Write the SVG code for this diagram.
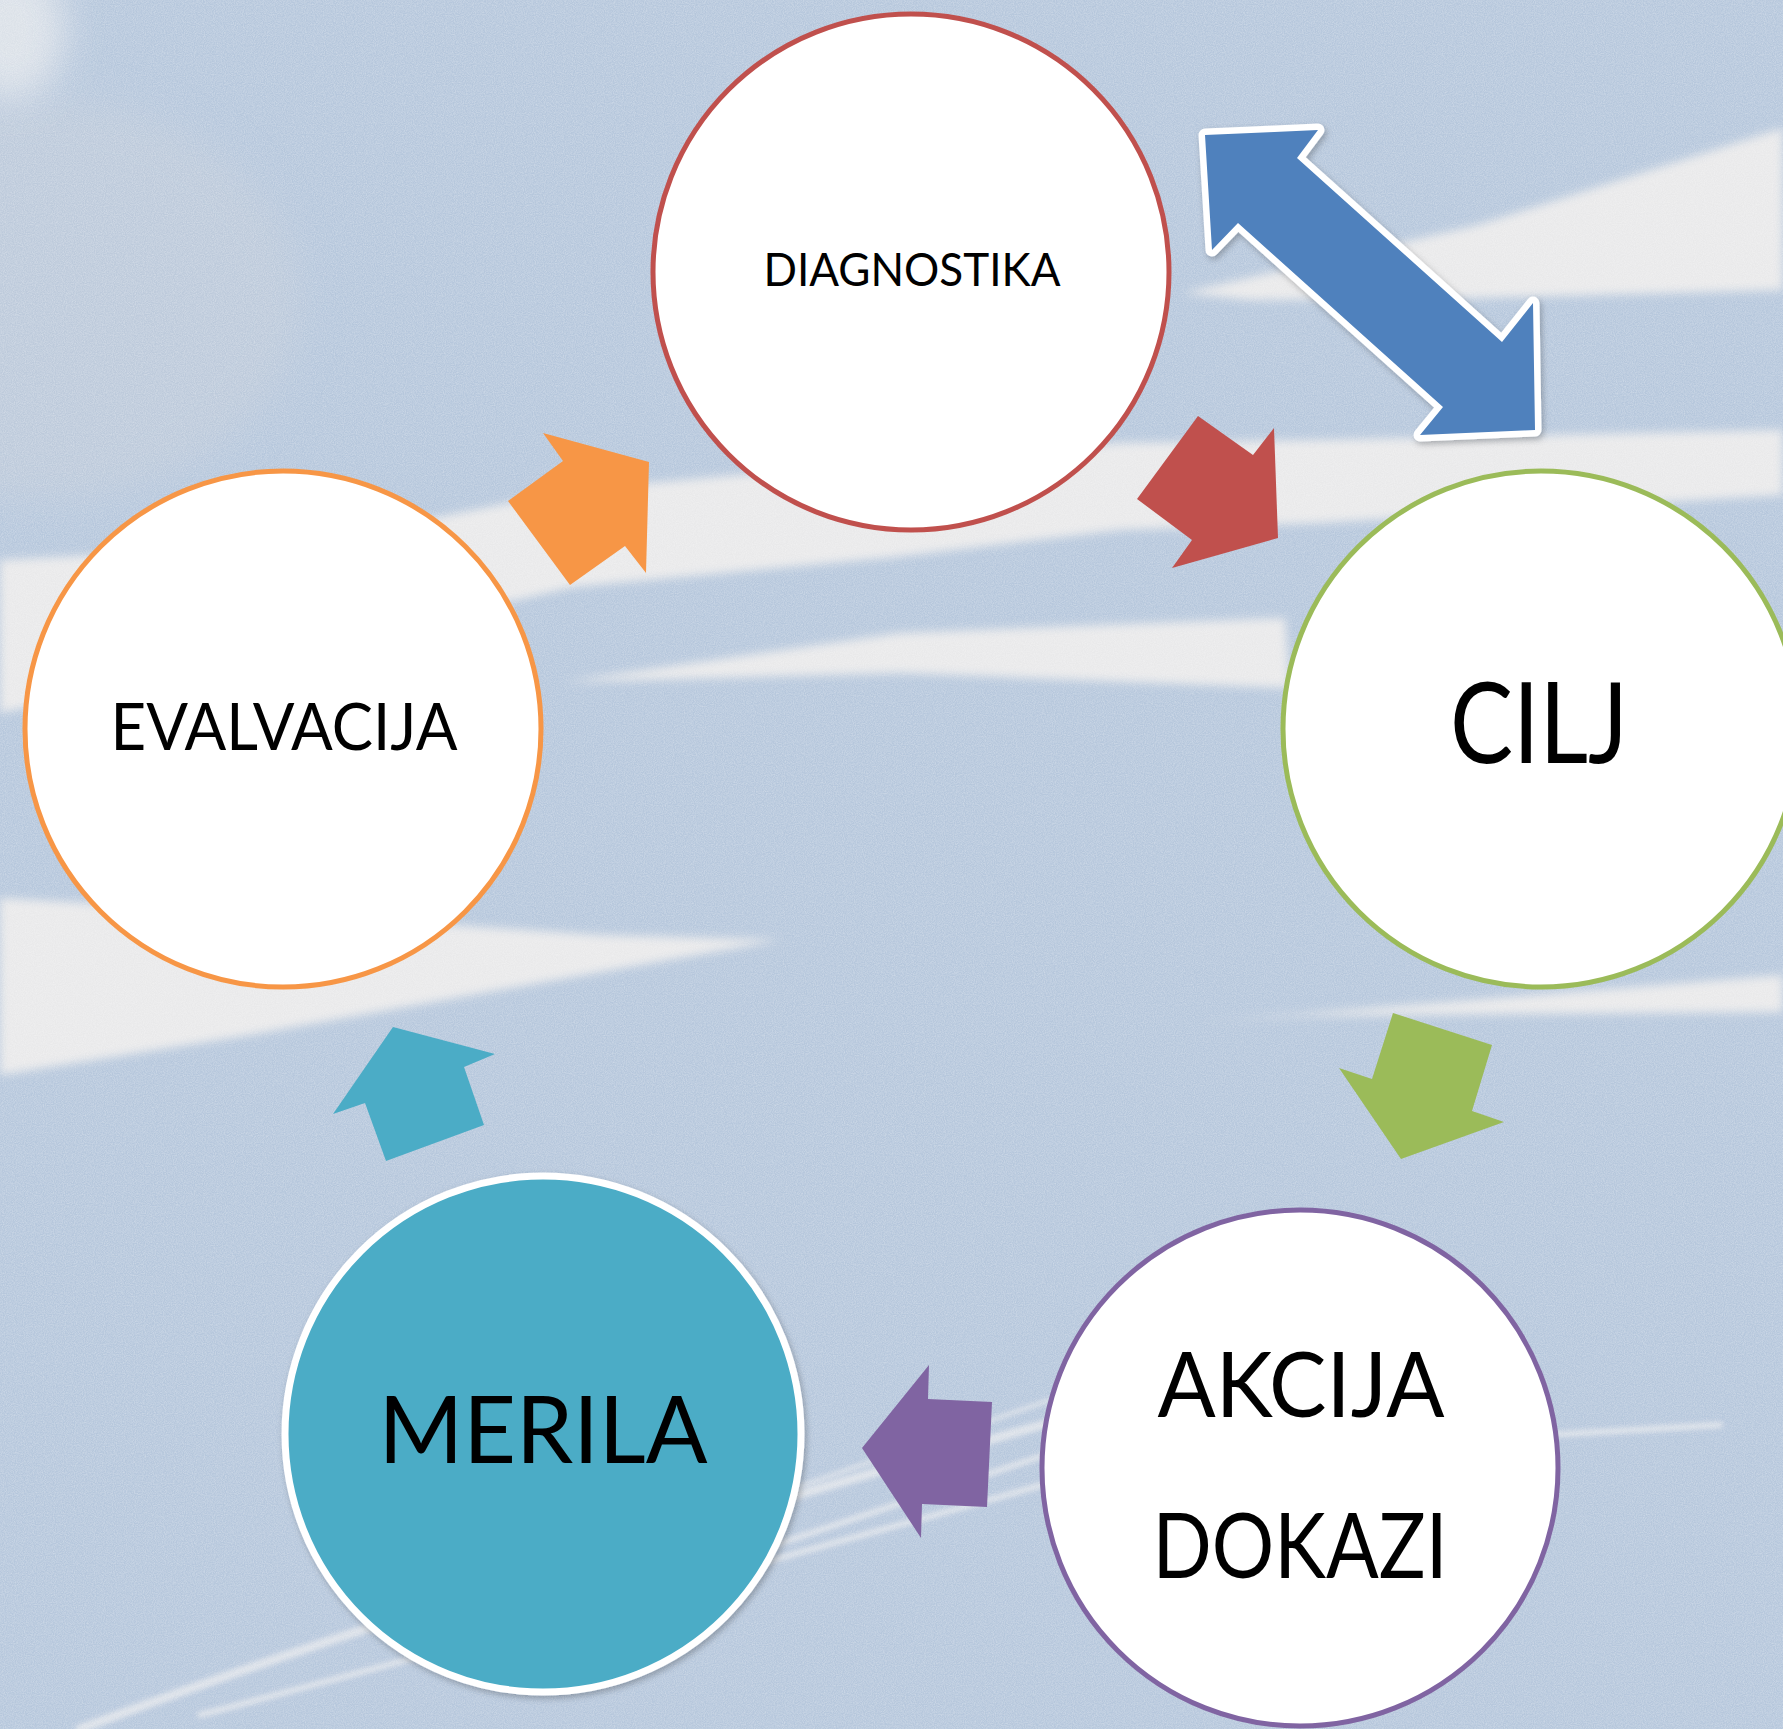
<svg xmlns="http://www.w3.org/2000/svg" width="1783" height="1729" viewBox="0 0 1783 1729">
<defs>
<filter id="soft" x="-20%" y="-100%" width="140%" height="300%"><feGaussianBlur stdDeviation="5"/></filter>
<filter id="softer" x="-20%" y="-100%" width="140%" height="300%"><feGaussianBlur stdDeviation="2.5"/></filter>
<filter id="blob" x="-100%" y="-100%" width="300%" height="300%"><feGaussianBlur stdDeviation="18"/></filter>
<filter id="noise" x="0" y="0" width="100%" height="100%">
<feTurbulence type="fractalNoise" baseFrequency="0.9" numOctaves="2" seed="4"/>
<feColorMatrix type="matrix" values="0 0 0 0 1  0 0 0 0 1  0 0 0 0 1  0.5 0 0 0 -0.15"/>
</filter>
<filter id="shadow" x="-10%" y="-10%" width="120%" height="120%"><feDropShadow dx="2" dy="3" stdDeviation="3" flood-color="#000" flood-opacity="0.25"/></filter>
<style>
.txt{font-family:Lato,"Open Sans","Liberation Sans",sans-serif;fill:#000;text-anchor:middle}
.ring{fill:#fff;stroke-width:5}
.band{fill:#E9E9EA}
.streak{fill:none;stroke:#E6E8EC;stroke-linecap:round;opacity:0.8}
</style>
</defs>

<g id="background">
<rect x="0" y="0" width="1783" height="1729" fill="#B6C7DC"/>
<ellipse cx="40" cy="300" rx="260" ry="200" fill="#BDCADB" filter="url(#blob)"/>
<ellipse cx="10" cy="30" rx="55" ry="70" fill="#E2E6EB" opacity="0.85" filter="url(#blob)"/>
<polygon class="band" filter="url(#soft)" points="1183,293 1478,225 1783,128 1783,290 1478,298 1251,300"/>
<polygon class="band" filter="url(#soft)" points="0,560 300,545 574,490 900,460 1120,443 1320,440 1783,430 1783,495 1320,523 1120,530 895,557 574,587 300,650 0,713"/>
<polygon class="band" filter="url(#soft)" points="563,682 900,633 1285,618 1290,688 900,673"/>
<polygon class="band" filter="url(#soft)" points="0,898 300,915 600,935 780,940 500,990 250,1035 0,1075"/>
<polygon class="band" filter="url(#soft)" points="1200,1022 1783,975 1783,1012 1500,1014 1300,1016"/>
<path class="streak" filter="url(#softer)" stroke-width="9" d="M 80 1729 Q 450 1590 1060 1420"/>
<path class="streak" filter="url(#softer)" stroke-width="6" d="M 200 1715 Q 560 1620 1060 1480"/>
<path class="streak" filter="url(#softer)" stroke-width="6" d="M 700 1570 L 1060 1450"/>
<path class="streak" filter="url(#softer)" stroke-width="6" d="M 1370 1445 L 1720 1425"/>
<path class="streak" filter="url(#softer)" stroke-width="4" d="M 760 1500 L 1050 1400"/>
<rect x="0" y="0" width="1783" height="1729" filter="url(#noise)"/>
</g>

<g id="connectors">
<polygon id="arrow-diag-cilj-both" points="1205,135 1318,130 1297,158 1502,342 1533,303 1535,430 1420,435 1443,407 1238,223 1212,250" fill="#4F81BD" stroke="#FFFFFF" stroke-width="13" stroke-linejoin="round" paint-order="stroke" filter="url(#shadow)"/>
<polygon id="arrow-diag-cilj" points="1198,416 1253,455 1274,428 1278,538 1172,568 1192,540 1137,499" fill="#C0504D"/>
<polygon id="arrow-cilj-akcija" points="1393,1013 1492,1045 1472,1111 1504,1122 1401,1159 1339,1068 1372,1079" fill="#9BBB59"/>
<polygon id="arrow-akcija-merila" points="929,1365 928,1399 992,1402 987,1507 922,1504 921,1538 862,1448" fill="#8064A2"/>
<polygon id="arrow-merila-eval" points="393,1027 495,1054 464,1067 484,1125 386,1161 365,1103 333,1114" fill="#4BACC6"/>
<polygon id="arrow-eval-diag" points="543,433 649,462 646,573 625,546 570,585 508,501 563,461" fill="#F79646"/>
</g>

<g id="node-diagnostika">
<circle class="ring" cx="911" cy="272" r="258" stroke="#C0504D"/>
<text class="txt" x="912" y="286" font-size="46" textLength="297" lengthAdjust="spacingAndGlyphs">DIAGNOSTIKA</text>
</g>

<g id="node-cilj">
<circle class="ring" cx="1541" cy="729" r="258" stroke="#9BBB59"/>
<text class="txt" x="1539" y="763" font-size="113" textLength="178" lengthAdjust="spacingAndGlyphs">CILJ</text>
</g>

<g id="node-akcija-dokazi">
<circle class="ring" cx="1300" cy="1468" r="258" stroke="#8064A2"/>
<text class="txt" x="1301" y="1417" font-size="92" textLength="287" lengthAdjust="spacingAndGlyphs">AKCIJA</text>
<text class="txt" x="1300" y="1578" font-size="92" textLength="295" lengthAdjust="spacingAndGlyphs">DOKAZI</text>
</g>

<g id="node-merila">
<circle cx="543" cy="1434" r="258" fill="#4BACC6" stroke="#FFFFFF" stroke-width="7" filter="url(#shadow)"/>
<text class="txt" x="543" y="1463" font-size="94" textLength="329" lengthAdjust="spacingAndGlyphs">MERILA</text>
</g>

<g id="node-evalvacija">
<circle class="ring" cx="283" cy="729" r="258" stroke="#F79646"/>
<text class="txt" x="284" y="750" font-size="66" textLength="347" lengthAdjust="spacingAndGlyphs">EVALVACIJA</text>
</g>
</svg>
